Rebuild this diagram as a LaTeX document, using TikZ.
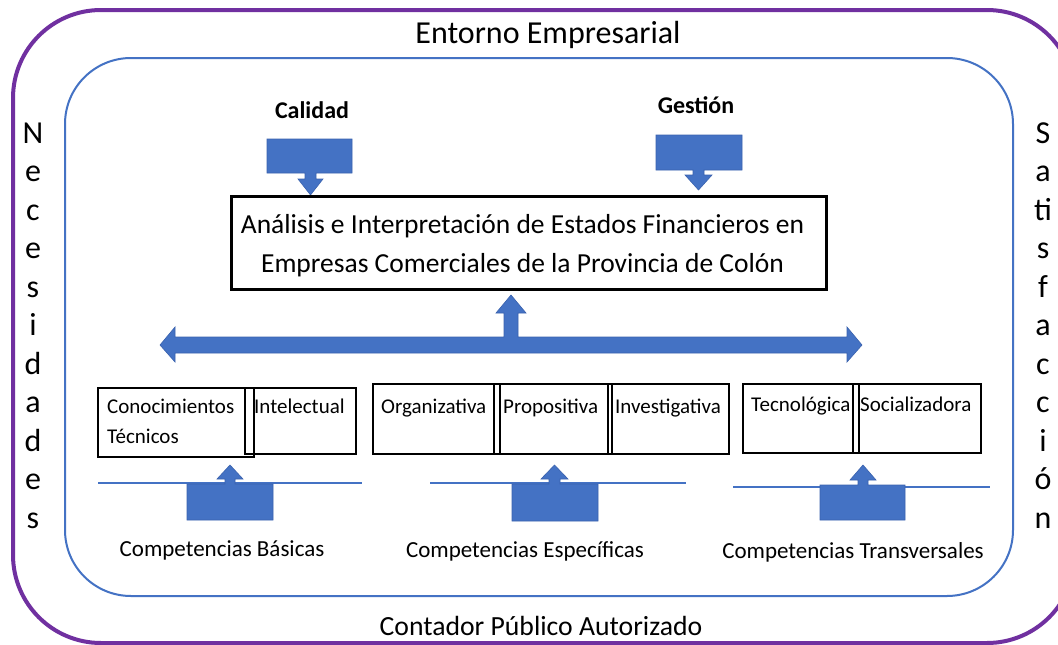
\documentclass[tikz,border=0pt]{standalone}
\usepackage{fontspec}
\setmainfont{Carlito}
\definecolor{ppl}{HTML}{7030A0}
\definecolor{blu}{HTML}{4472C4}
\definecolor{bluedge}{HTML}{3A62AE}
\begin{document}
\begin{tikzpicture}[x=1pt,y=-1pt,
  blueshape/.style={fill=blu,draw=bluedge,line width=0.6pt,line join=miter},
  cbox/.style={draw=black,line width=2pt},
  lbl/.style={inner sep=0pt,font=\fontsize{21}{25}\selectfont},
  side/.style={inner sep=0pt,anchor=base,font=\fontsize{32}{38}\selectfont},
  big/.style={inner sep=0pt,font=\fontsize{32}{38}\selectfont},
  head/.style={inner sep=0pt,font=\bfseries\fontsize{24}{28}\selectfont},
  comp/.style={inner sep=0pt,font=\fontsize{23}{27}\selectfont}]
\useasboundingbox (0,0) rectangle (1058,645);
\clip (0,0) rectangle (1058,645);
\fill[white] (0,0) rectangle (1058,645);
% frames
\draw[ppl,line width=4pt,rounded corners=88pt] (13,10) rectangle (1075,643);
\draw[blu,line width=2pt,rounded corners=66pt] (65,58) rectangle (1013,596);
% outer labels
\node[big] (entorno) at (548,35) {Entorno Empresarial};
\node[big,font=\fontsize{27.7}{32}\selectfont] (contador) at (541,626) {Contador Público Autorizado};
\foreach \l [count=\i from 0] in {N,e,c,e,s,i,d,a,d,e,s}
  \node[side] (nec\i) at (33,143+38.5*\i) {\l};
\foreach \l [count=\i from 0] in {S,a,ti,s,f,a,c,c,i,ó,n}
  \node[side] (sat\i) at (1043,143+38.5*\i) {\l};
% top labels and arrows
\node[head] (calidad) at (312,110) {Calidad};
\node[head] (gestion) at (696,105) {Gestión};
\draw[blueshape] (267,139) -- (352,139) -- (352,173) -- (316,173) -- (316,179) -- (323,179)
  -- (310.5,195) -- (298,179) -- (305,179) -- (305,173) -- (267,173) -- cycle;
\draw[blueshape] (656,135) -- (742,135) -- (742,170) -- (704,170) -- (704,175) -- (712,175)
  -- (698.5,190) -- (685,175) -- (693,175) -- (693,170) -- (656,170) -- cycle;
% central box
\node[draw=black,line width=3pt,minimum width=595pt,minimum height=93pt,inner sep=0pt] (titulo) at (528.5,242.5) {};
\node[inner sep=0pt,align=center,font=\fontsize{27.5}{39}\selectfont] (titulotxt) at (522.5,246)
  {Análisis e Interpretación de Estados Financieros en\\Empresas Comerciales de la Provincia de Colón};
% horizontal double arrow with up arrow
\draw[blueshape] (160,345) -- (175,327) -- (175,337) -- (504,337) -- (504,313) -- (496,313)
  -- (511,295) -- (526,313) -- (518,313) -- (518,337) -- (847,337) -- (847,327) -- (862,345)
  -- (847,362) -- (847,353) -- (175,353) -- (175,362) -- cycle;
% boxes
\node[cbox,anchor=north west,minimum width=156pt,minimum height=69pt,inner sep=0pt] (conoc) at (97,387) {};
\node[cbox,anchor=north west,minimum width=111pt,minimum height=66pt,inner sep=0pt] (intel) at (244,387) {};
\node[cbox,anchor=north west,minimum width=127pt,minimum height=70pt,inner sep=0pt] (organ) at (372,383) {};
\node[cbox,anchor=north west,minimum width=118pt,minimum height=70pt,inner sep=0pt] (propo) at (493,383) {};
\node[cbox,anchor=north west,minimum width=121pt,minimum height=70pt,inner sep=0pt] (inves) at (607,383) {};
\node[cbox,anchor=north west,minimum width=116pt,minimum height=69pt,inner sep=0pt] (tecno) at (742,383) {};
\node[cbox,anchor=north west,minimum width=128pt,minimum height=69pt,inner sep=0pt] (socia) at (852,383) {};
\node[lbl,anchor=base west] (t1) at (107,413) {Conocimientos};
\node[lbl,anchor=base west] (t1b) at (107,443) {Técnicos};
\node[lbl,anchor=base west] (t2) at (254,413) {Intelectual};
\node[lbl,anchor=base west] (t3) at (381,413) {Organizativa};
\node[lbl,anchor=base west] (t4) at (503,413) {Propositiva};
\node[lbl,anchor=base west] (t5) at (615,413) {Investigativa};
\node[lbl,anchor=base west] (t6) at (751,411) {Tecnológica};
\node[lbl,anchor=base west] (t7) at (860,411) {Socializadora};
% bottom lines and arrows
\draw[blu,line width=1.3pt] (98,483) -- (362,483);
\draw[blu,line width=1.3pt] (430,483) -- (686,483);
\draw[blu,line width=1.3pt] (733,487) -- (990,487);
\draw[blueshape] (187,520) -- (187,484) -- (225,484) -- (225,479) -- (217,479) -- (230,465)
  -- (243,479) -- (235,479) -- (235,484) -- (273,484) -- (273,520) -- cycle;
\draw[blueshape] (512,521) -- (512,484) -- (549,484) -- (549,479) -- (541,479) -- (554.5,465)
  -- (568,479) -- (560,479) -- (560,484) -- (598,484) -- (598,521) -- cycle;
\draw[blueshape] (820,520) -- (820,485) -- (858,485) -- (858,480) -- (850,480) -- (863,465)
  -- (876,480) -- (868,480) -- (868,485) -- (905,485) -- (905,520) -- cycle;
\node[comp] (cb) at (222,550) {Competencias Básicas};
\node[comp] (ce) at (525,551) {Competencias Específicas};
\node[comp] (ct) at (853,552) {Competencias Transversales};
\end{tikzpicture}
\end{document}
